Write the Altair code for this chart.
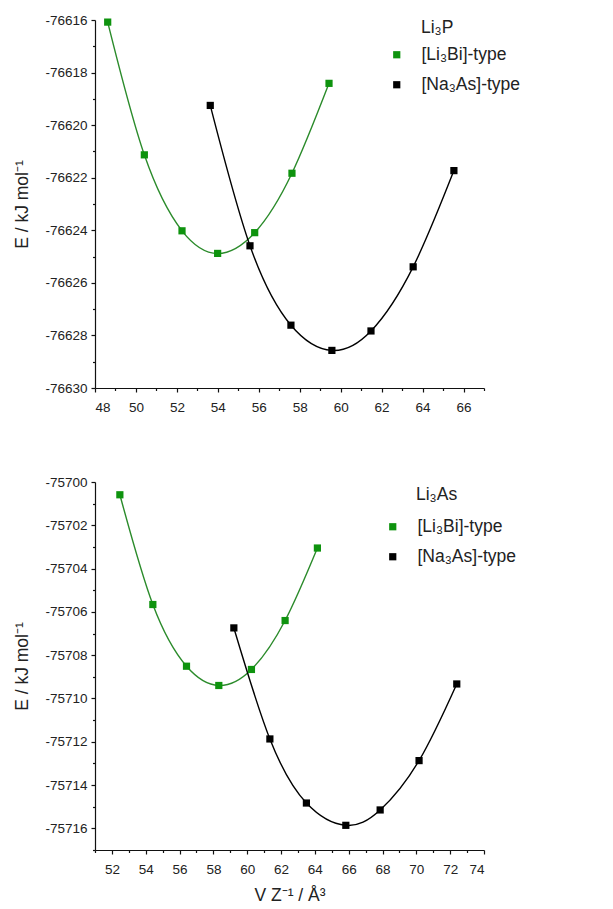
import altair as alt
import pandas as pd

FONT = "Liberation Sans"

series = ["[Li₃Bi]-type", "[Na₃As]-type"]
marker_colors = ["#0e930e", "#000000"]
line_colors = ["#2b8b2b", "#000000"]
compounds = ["Li₃P", "Li₃As"]

# Li3P panel
p_bi_v = [48.62, 50.41, 52.25, 53.99, 55.80, 57.62, 59.43]
p_bi_e = [-76616.08, -76621.13, -76624.02, -76624.88, -76624.09, -76621.83, -76618.41]
p_na_v = [53.63, 55.57, 57.57, 59.57, 61.48, 63.54, 65.53]
p_na_e = [-76619.25, -76624.59, -76627.61, -76628.57, -76627.83, -76625.39, -76621.73]

# Li3As panel
a_bi_v = [52.47, 54.42, 56.41, 58.32, 60.25, 62.24, 64.15]
a_bi_e = [-75700.59, -75705.66, -75708.51, -75709.40, -75708.66, -75706.40, -75703.05]
a_na_v = [59.21, 61.34, 63.50, 65.83, 67.86, 70.16, 72.39]
a_na_e = [-75706.74, -75711.87, -75714.83, -75715.86, -75715.15, -75712.87, -75709.33]

# axis ticks
p_x_major = list(range(48, 67, 2))
p_x_minor = list(range(49, 68, 2))
p_y_major = list(range(-76630, -76615, 2))
p_y_minor = list(range(-76629, -76616, 2))
a_x_major = list(range(52, 75, 2))
a_x_minor = list(range(51, 74, 2))
a_y_major = list(range(-75716, -75699, 2))
a_y_minor = list(range(-75717, -75700, 2))


def make_df(bi_v, bi_e, na_v, na_e):
    return pd.DataFrame({
        "V": bi_v + na_v,
        "E": bi_e + na_e,
        "type": [series[0]] * len(bi_v) + [series[1]] * len(na_v),
    })


def panel(df, name, xdom, ydom, xmaj, xmin, ymaj, ymin, xtitle, lx, ly, tx, ty):
    xs = alt.Scale(domain=xdom, nice=False, zero=False)
    ys = alt.Scale(domain=ydom, nice=False, zero=False)
    xaxis = alt.Axis(values=xmaj, orient="bottom", tickSize=4, labelPadding=8,
                     title=xtitle, titlePadding=11)
    yaxis = alt.Axis(values=ymaj, orient="left", tickSize=4, labelPadding=4,
                     labelExpr="'' + datum.value", title="E / kJ mol⁻¹",
                     titlePadding=13)
    base = alt.Chart(df)
    minor = base.mark_line(opacity=0).encode(
        x=alt.X("V:Q", scale=xs, axis=alt.Axis(values=xmin, orient="bottom", tickSize=2.5,
                                                labels=False, domain=False, title=None)),
        y=alt.Y("E:Q", scale=ys, axis=alt.Axis(values=ymin, orient="left", tickSize=2.5,
                                                labels=False, domain=False, title=None)),
        detail="type:N",
    )
    line = base.mark_line(interpolate="natural", strokeWidth=1.4).encode(
        x=alt.X("V:Q", scale=xs, axis=xaxis),
        y=alt.Y("E:Q", scale=ys, axis=yaxis),
        stroke=alt.Stroke("type:N", scale=alt.Scale(domain=series, range=line_colors), legend=None),
    )
    pts = base.mark_square(size=52, opacity=1).encode(
        x=alt.X("V:Q", scale=xs, axis=None),
        y=alt.Y("E:Q", scale=ys, axis=None),
        color=alt.Color("type:N", scale=alt.Scale(domain=series, range=marker_colors),
                        legend=alt.Legend(title=None, orient="none", legendX=lx, legendY=ly,
                                          symbolType="square", symbolSize=52,
                                          symbolStrokeWidth=0, labelFontSize=17.5,
                                          labelFont=FONT, labelColor="#222",
                                          labelOffset=16, rowPadding=11, padding=0)),
    )
    label = alt.Chart(pd.DataFrame({"name": [name]})).mark_text(
        align="left", baseline="middle", fontSize=17.5, font=FONT, color="#222"
    ).encode(x=alt.value(tx), y=alt.value(ty), text="name:N")
    return alt.layer(minor, line, pts, label).resolve_scale(
        x="independent", y="independent"
    ).resolve_axis(x="independent", y="independent").properties(width=389, height=368)


top = panel(make_df(p_bi_v, p_bi_e, p_na_v, p_na_e), compounds[0], [48, 67], [-76630, -76616],
            p_x_major, p_x_minor, p_y_major, p_y_minor, None, 293, 26, 326, 8)
bottom = panel(make_df(a_bi_v, a_bi_e, a_na_v, a_na_e), compounds[1], [51, 74], [-75717, -75700],
               a_x_major, a_x_minor, a_y_major, a_y_minor, "V Z⁻¹ /  Å³", 289, 36, 321, 13)

chart = alt.vconcat(top, bottom, spacing=61).resolve_scale(color="independent").configure(
    background="white"
).configure_view(
    stroke=None
).configure_axis(
    grid=False, domainColor="#111", tickColor="#111", domainWidth=1.2, tickWidth=1.2,
    labelFont=FONT, labelFontSize=13.5, labelColor="#222",
    titleFont=FONT, titleFontSize=17.5, titleFontWeight="normal", titleColor="#222",
)

chart.save("out.html", embed_options={"renderer": "svg", "actions": False})
